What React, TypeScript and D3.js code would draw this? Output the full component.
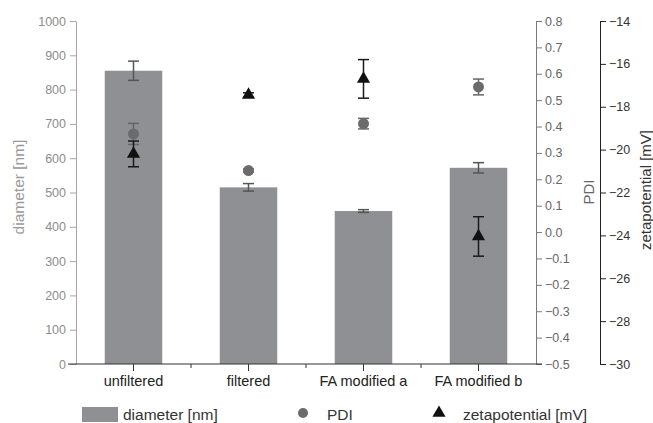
import { useEffect, useRef } from 'react'
import * as d3 from 'd3'

const categories = ['unfiltered', 'filtered', 'FA modified a', 'FA modified b']
const diameter = [855, 515, 446, 572]
const diameterErr = [28, 11, 4, 15]
const pdi = [0.372, 0.233, 0.411, 0.55]
const pdiErr = [0.04, 0.006, 0.02, 0.03]
const zeta = [-20.2, -17.45, -16.7, -24.05]
const zetaErr = [0.6, 0.1, 0.9, 0.92]

const diameterTicks = d3.range(0, 1001, 100)
const pdiTicks = d3.range(-5, 9).map(d => d / 10)
const zetaTicks = d3.range(-30, -13, 2)

const W = 653
const H = 423
const FONT = 'Liberation Sans, Arial, sans-serif'

export default function App() {
  const ref = useRef<SVGSVGElement>(null)

  useEffect(() => {
    const svg = d3.select(ref.current)
    svg.selectAll('*').remove()

    const left = 76, right = 536, top = 21, bottom = 364
    const x = d3.scaleBand().domain(categories).range([left, right])
    const y = d3.scaleLinear().domain([0, 1000]).range([bottom, top])
    const yP = d3.scaleLinear().domain([-0.5, 0.8]).range([bottom, top])
    const yZ = d3.scaleLinear().domain([-30, -14]).range([bottom, top])
    const barW = x.bandwidth() * 0.5

    // left axis (diameter)
    const gl = svg.append('g').attr('transform', `translate(${left},0)`)
    gl.call(d3.axisLeft(y).tickValues(d3.range(50, 1000, 100)).tickSize(3).tickFormat(() => ''))
    gl.call(d3.axisLeft(y).tickValues(diameterTicks).tickSize(6).tickSizeOuter(0).tickPadding(4).tickFormat(d3.format('d')))
    gl.selectAll('path, line').attr('stroke', '#a6a6a6')
    gl.selectAll('text').attr('fill', '#8c8c8c').attr('font-size', 12.5).attr('font-family', FONT)

    // PDI axis
    const gp = svg.append('g').attr('transform', `translate(${right},0)`)
    gp.call(d3.axisRight(yP).tickValues(d3.range(-9, 16, 2).map(d => d / 20)).tickSize(3).tickFormat(() => ''))
    gp.call(d3.axisRight(yP).tickValues(pdiTicks).tickSize(6).tickSizeOuter(6).tickPadding(3).tickFormat(d3.format('.1f')))
    gp.selectAll('path, line').attr('stroke', '#7a7a7a')
    gp.selectAll('text').attr('fill', '#666').attr('font-size', 12.5).attr('font-family', FONT)

    // zeta axis
    const gz = svg.append('g').attr('transform', 'translate(600,0)')
    gz.call(d3.axisRight(yZ).tickValues(d3.range(-29, -14, 2)).tickSize(3).tickFormat(() => ''))
    gz.call(d3.axisRight(yZ).tickValues(zetaTicks).tickSize(6).tickSizeOuter(6).tickPadding(3))
    gz.selectAll('path, line').attr('stroke', '#222')
    gz.selectAll('text').attr('fill', '#333').attr('font-size', 12.5).attr('font-family', FONT)

    // bars
    svg.append('g').selectAll('rect').data(categories).join('rect')
      .attr('x', d => x(d)! + x.bandwidth() / 2 - barW / 2)
      .attr('width', barW)
      .attr('y', (_, i) => y(diameter[i]))
      .attr('height', (_, i) => bottom - y(diameter[i]))
      .attr('fill', '#8f9094')

    const errorBars = (vals: number[], errs: number[], sc: d3.ScaleLinear<number, number>, color: string, cap: number) => {
      const g = svg.append('g').attr('stroke', color).attr('stroke-width', 1.5)
      categories.forEach((c, i) => {
        const cx = x(c)! + x.bandwidth() / 2
        const y1 = sc(vals[i] + errs[i]), y2 = sc(vals[i] - errs[i])
        g.append('line').attr('x1', cx).attr('x2', cx).attr('y1', y1).attr('y2', y2)
        g.append('line').attr('x1', cx - cap).attr('x2', cx + cap).attr('y1', y1).attr('y2', y1)
        g.append('line').attr('x1', cx - cap).attr('x2', cx + cap).attr('y1', y2).attr('y2', y2)
      })
    }
    errorBars(diameter, diameterErr, y, '#555', 5.5)

    // bottom axis
    const gb = svg.append('g').attr('transform', `translate(0,${bottom})`)
    gb.append('line').attr('x1', left - 8).attr('x2', right + 6).attr('stroke', '#333').attr('stroke-width', 1.2)
    gb.selectAll('line.minor').data(d3.range(1, 4)).join('line')
      .attr('x1', i => left + i * x.step()).attr('x2', i => left + i * x.step())
      .attr('y1', 0).attr('y2', 4).attr('stroke', '#333')
    gb.selectAll('line.major').data(categories).join('line')
      .attr('x1', d => x(d)! + x.bandwidth() / 2).attr('x2', d => x(d)! + x.bandwidth() / 2)
      .attr('y1', 0).attr('y2', 7).attr('stroke', '#333')
    gb.selectAll('text').data(categories).join('text')
      .attr('x', d => x(d)! + x.bandwidth() / 2).attr('y', 22)
      .attr('text-anchor', 'middle').attr('fill', '#222')
      .attr('font-size', 14.5).attr('font-family', FONT).text(d => d)

    // PDI points
    errorBars(pdi, pdiErr, yP, '#666', 5.5)
    svg.append('g').selectAll('circle').data(categories).join('circle')
      .attr('cx', d => x(d)! + x.bandwidth() / 2)
      .attr('cy', (_, i) => yP(pdi[i]))
      .attr('r', 5.5).attr('fill', '#6b6b6d')

    // zeta points
    errorBars(zeta, zetaErr, yZ, '#1a1a1a', 5.5)
    const tri = d3.symbol().type(d3.symbolTriangle).size(75)
    svg.append('g').selectAll('path').data(categories).join('path')
      .attr('transform', (d, i) => `translate(${x(d)! + x.bandwidth() / 2},${yZ(zeta[i])})`)
      .attr('d', tri).attr('fill', '#111')

    // axis titles
    svg.append('text').attr('transform', 'translate(24,187) rotate(-90)')
      .attr('text-anchor', 'middle').attr('fill', '#999').attr('font-size', 15.5)
      .attr('font-family', FONT).text('diameter [nm]')
    svg.append('text').attr('transform', 'translate(594,192) rotate(-90)')
      .attr('text-anchor', 'middle').attr('fill', '#666').attr('font-size', 15)
      .attr('font-family', FONT).text('PDI')
    svg.append('text').attr('transform', 'translate(651,190) rotate(-90)')
      .attr('text-anchor', 'middle').attr('fill', '#333').attr('font-size', 15)
      .attr('font-family', FONT).text('zetapotential [mV]')

    // legend
    const lg = svg.append('g').attr('font-family', FONT).attr('font-size', 15.5).attr('fill', '#333')
    lg.append('rect').attr('x', 82).attr('y', 407).attr('width', 36).attr('height', 15).attr('fill', '#8f9094')
    lg.append('text').attr('x', 123).attr('y', 420).text('diameter [nm]')
    lg.append('circle').attr('cx', 303).attr('cy', 413).attr('r', 5).attr('fill', '#6b6b6d')
    lg.append('text').attr('x', 327).attr('y', 420).text('PDI')
    lg.append('path').attr('transform', 'translate(439,413)').attr('d', tri).attr('fill', '#111')
    lg.append('text').attr('x', 463).attr('y', 420).text('zetapotential [mV]')
  }, [])

  return (
    <svg ref={ref} width={W} height={H}
      style={{ position: 'absolute', left: 0, top: 0, background: '#fff' }} />
  )
}
